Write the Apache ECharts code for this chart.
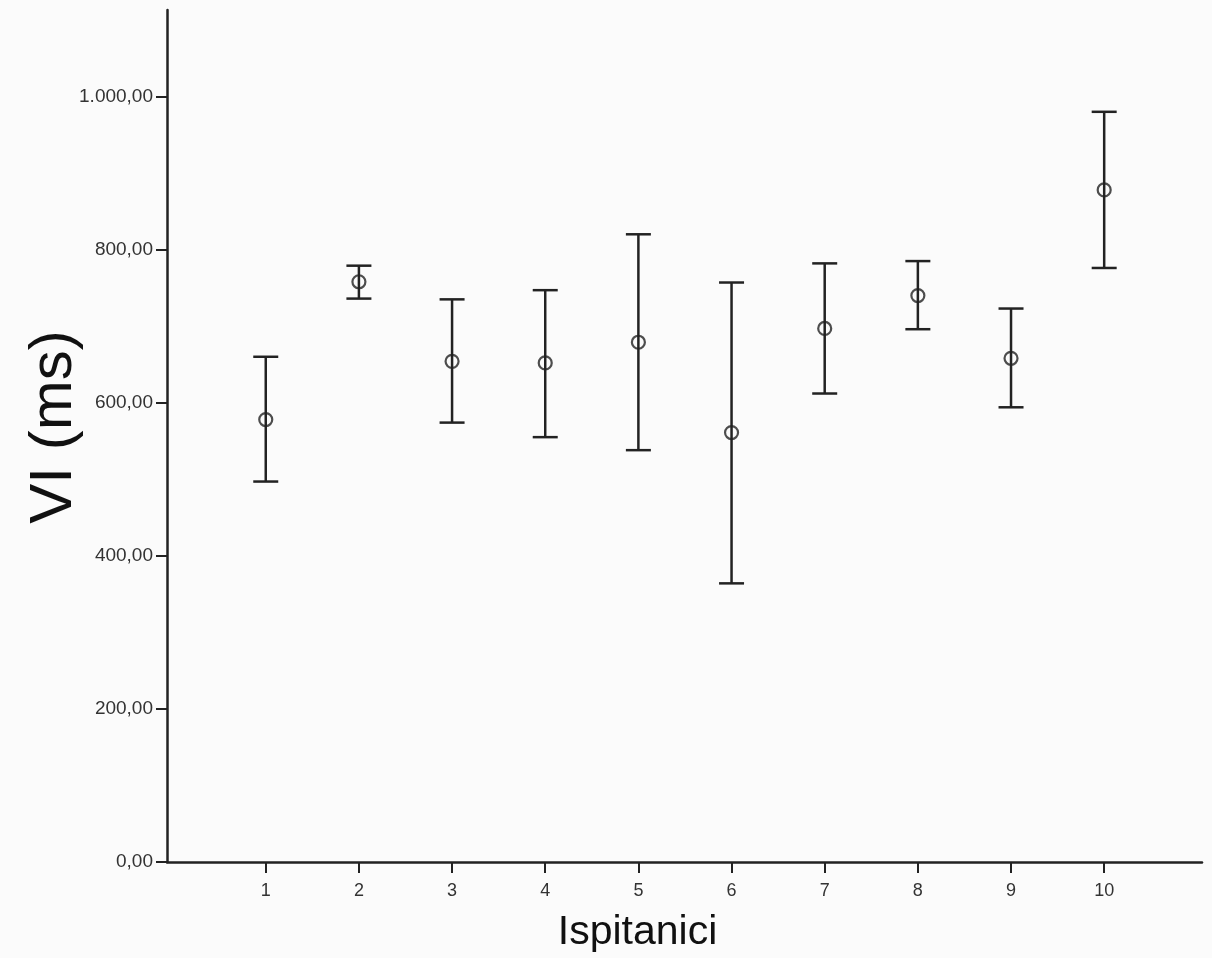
<!DOCTYPE html>
<html>
<head>
    <meta charset="UTF-8">
    <title>VI (ms) - Ispitanici</title>
    <script src="https://cdn.jsdelivr.net/npm/echarts@6/dist/echarts.min.js"></script>
    <style>
        html, body { margin: 0; padding: 0; background: #fbfbfb; }
        #chart { width: 1212px; height: 958px; }
    </style>
</head>
<body>
    <div id="chart"></div>
    <script>
        // values
        var subjects = [1, 2, 3, 4, 5, 6, 7, 8, 9, 10];
        var means = [578, 758, 654, 652, 679, 561, 697, 740, 658, 878];
        var lower = [497, 736, 574, 555, 538, 364, 612, 696, 594, 776];
        var upper = [660, 779, 735, 747, 820, 757, 782, 785, 723, 980];
        var yTicks = [0, 200, 400, 600, 800, 1000];

        var ink = '#222';

        function fmt(v) {
            var parts = v.toFixed(2).split('.');
            var int = parts[0].replace(/\B(?=(\d{3})+(?!\d))/g, '.');
            return int + ',' + parts[1];
        }

        var barData = subjects.map(function (s, i) { return [s, lower[i], upper[i]]; });
        var pointData = subjects.map(function (s, i) { return [s, means[i]]; });

        var chart = echarts.init(document.getElementById('chart'), null, {renderer: 'canvas'});
        chart.setOption({
            backgroundColor: '#fbfbfb',
            animation: false,
            grid: {left: 167, right: 10, top: 10, bottom: 95},
            xAxis: {
                type: 'value',
                min: -0.06,
                max: 11.05,
                name: 'Ispitanici',
                nameLocation: 'middle',
                nameGap: 50,
                nameMoveOverlap: false,
                nameTextStyle: {fontFamily: 'Liberation Sans', fontSize: 41, color: '#111', padding: [0, 94, 0, 0]},
                axisLine: {onZero: false, lineStyle: {color: ink, width: 2.5}},
                axisTick: {show: true, length: 11, lineStyle: {color: ink, width: 2}, customValues: subjects},
                axisLabel: {customValues: subjects, margin: 20, fontFamily: 'Liberation Sans', fontSize: 18, color: '#333'},
                splitLine: {show: false}
            },
            yAxis: {
                type: 'value',
                min: 0,
                max: 1113,
                name: 'VI (ms)',
                nameLocation: 'middle',
                nameGap: 83,
                nameMoveOverlap: false,
                nameTextStyle: {fontFamily: 'Liberation Sans', fontSize: 60, color: '#111', padding: [0, 0, 0, 18]},
                axisLine: {show: true, onZero: false, lineStyle: {color: ink, width: 2.5}},
                axisTick: {show: true, length: 11, lineStyle: {color: ink, width: 2}, customValues: yTicks},
                axisLabel: {customValues: yTicks, margin: 14, fontFamily: 'Liberation Sans', fontSize: 19, color: '#333', formatter: fmt},
                splitLine: {show: false}
            },
            series: [
                {
                    type: 'custom',
                    data: barData,
                    renderItem: function (params, api) {
                        var x = api.value(0);
                        var lo = api.coord([x, api.value(1)]);
                        var hi = api.coord([x, api.value(2)]);
                        var w = 12.5;
                        var style = {stroke: ink, lineWidth: 2.5};
                        return {
                            type: 'group',
                            children: [
                                {type: 'line', shape: {x1: lo[0], y1: lo[1], x2: hi[0], y2: hi[1]}, style: style},
                                {type: 'line', shape: {x1: hi[0] - w, y1: hi[1], x2: hi[0] + w, y2: hi[1]}, style: style},
                                {type: 'line', shape: {x1: lo[0] - w, y1: lo[1], x2: lo[0] + w, y2: lo[1]}, style: style}
                            ]
                        };
                    }
                },
                {
                    type: 'scatter',
                    data: pointData,
                    symbol: 'circle',
                    symbolSize: 13,
                    itemStyle: {color: 'transparent', borderColor: ink, borderWidth: 2.2}
                }
            ]
        });
    </script>
</body>
</html>
